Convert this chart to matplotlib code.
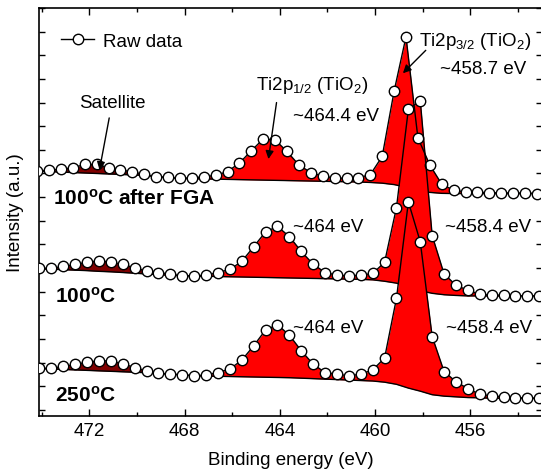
import numpy as np
import matplotlib
matplotlib.use("Agg")
import matplotlib.pyplot as plt  # noqa
from matplotlib.ticker import MultipleLocator  # noqa

plt.rcParams["font.family"] = ["Liberation Sans", "DejaVu Sans"]
plt.rcParams["mathtext.fontset"] = "custom"
plt.rcParams["mathtext.rm"] = "Liberation Sans"
plt.rcParams["mathtext.it"] = "Liberation Sans:italic"
plt.rcParams["mathtext.bf"] = "Liberation Sans:bold"

# Binding energy grids (eV), 0.5 eV steps
energy_fga = np.arange(474.2, 453.1, -0.5)
energy_100 = np.arange(474.1, 453.0, -0.5)
energy_250 = np.arange(474.1, 453.0, -0.5)

# Raw data, stacked (a.u.)
raw_fga = [10.10, 10.14, 10.18, 10.24, 10.38, 10.38, 10.25, 10.15, 10.07, 9.96,
           9.87, 9.83, 9.80, 9.81, 9.86, 9.92, 10.08, 10.44, 10.96, 11.46,
           11.42, 10.93, 10.36, 10.04, 9.89, 9.81, 9.79, 9.82, 9.95, 10.72,
           13.48, 15.78, 11.51, 10.36, 9.55, 9.29, 9.22, 9.20, 9.19, 9.18,
           9.17, 9.17, 9.15]
raw_100 = [5.98, 5.99, 6.07, 6.15, 6.25, 6.30, 6.26, 6.15, 6.01, 5.88,
           5.81, 5.74, 5.67, 5.67, 5.69, 5.81, 5.94, 6.28, 6.90, 7.53,
           7.76, 7.33, 6.70, 6.16, 5.81, 5.70, 5.67, 5.70, 5.77, 6.24,
           8.56, 12.72, 13.07, 7.37, 5.75, 5.27, 5.06, 4.89, 4.85, 4.85,
           4.82, 4.82, 4.82]
raw_250 = [1.75, 1.76, 1.84, 1.92, 2.02, 2.07, 2.07, 1.95, 1.79, 1.65,
           1.54, 1.51, 1.48, 1.44, 1.47, 1.58, 1.73, 2.10, 2.71, 3.38,
           3.60, 3.16, 2.50, 1.93, 1.58, 1.51, 1.44, 1.51, 1.69, 2.19,
           4.72, 8.80, 7.11, 3.10, 1.62, 1.19, 0.90, 0.66, 0.59, 0.55,
           0.52, 0.49, 0.49]

# Shirley backgrounds
bg_fga = [10.10, 10.08, 10.06, 10.04, 10.02, 10.00, 9.98, 9.96, 9.94, 9.92,
          9.86, 9.82, 9.79, 9.78, 9.77, 9.76, 9.75, 9.74, 9.73, 9.72,
          9.71, 9.70, 9.69, 9.68, 9.67, 9.66, 9.65, 9.64, 9.62, 9.59,
          9.53, 9.42, 9.27, 9.20, 9.16, 9.15, 9.15, 9.15, 9.15, 9.15,
          9.15, 9.15, 9.15]
bg_100 = [5.97, 5.95, 5.93, 5.91, 5.89, 5.86, 5.84, 5.81, 5.78, 5.75,
          5.72, 5.69, 5.67, 5.66, 5.65, 5.64, 5.63, 5.62, 5.61, 5.60,
          5.59, 5.58, 5.57, 5.56, 5.55, 5.54, 5.53, 5.52, 5.50, 5.44,
          5.36, 5.21, 5.04, 4.93, 4.87, 4.84, 4.82, 4.82, 4.82, 4.82,
          4.82, 4.82, 4.82]
bg_250 = [1.75, 1.73, 1.71, 1.69, 1.67, 1.65, 1.63, 1.61, 1.59, 1.57,
          1.54, 1.51, 1.48, 1.44, 1.43, 1.42, 1.41, 1.40, 1.39, 1.38,
          1.37, 1.36, 1.34, 1.32, 1.30, 1.28, 1.26, 1.24, 1.22, 1.17,
          1.08, 0.92, 0.79, 0.64, 0.58, 0.55, 0.52, 0.51, 0.49, 0.49,
          0.49, 0.49, 0.49]

satellite_edge = 469.5  # eV, satellite region on the high BE side

curves = [
    (energy_fga, raw_fga, bg_fga),
    (energy_100, raw_100, bg_100),
    (energy_250, raw_250, bg_250),
]

fig = plt.figure(figsize=(5.41, 4.77), dpi=100)
ax = fig.add_axes([0.0721, 0.1258, 0.9300, 0.8553])

# Fills and backgrounds (later curves drawn on top)
for i, (x, y, bg) in enumerate(curves):
    y = np.asarray(y)
    bg = np.asarray(bg)
    z = 2 + i
    ax.fill_between(x, y, bg, where=x >= satellite_edge, color="#800000",
                    linewidth=0, zorder=z)
    ax.fill_between(x, y, bg, where=x <= satellite_edge, color="#ff0000",
                    linewidth=0, zorder=z)
    ax.plot(x, bg, color="black", lw=1.0, zorder=z + 0.1)

# Raw data on top of everything
for i, (x, y, bg) in enumerate(curves):
    ax.plot(x, y, "-o", color="black", lw=1.0, ms=7.5, mfc="white",
            mec="black", mew=1.0, zorder=10,
            label="Raw data" if i == 0 else None)

ax.set_xlim(474.12, 452.98)
ax.set_ylim(-0.26, 17.0)
ax.xaxis.set_major_locator(MultipleLocator(4))
ax.xaxis.set_minor_locator(MultipleLocator(2))
ax.yaxis.set_major_locator(MultipleLocator(1))
ax.set_yticklabels([])
ax.tick_params(axis="x", which="major", direction="in", length=5, width=1,
               top=True, labelsize=13.5, pad=4)
ax.tick_params(axis="x", which="minor", direction="in", length=3, width=1,
               top=True)
ax.tick_params(axis="y", which="major", direction="in", length=4.5, width=1,
               right=True, left=True)
for sp in ax.spines.values():
    sp.set_linewidth(1.2)

ax.set_xlabel("Binding energy (eV)", fontsize=13.5, labelpad=9)
ax.set_ylabel("Intensity (a.u.)", fontsize=13.5, labelpad=7)

ax.legend(loc="upper left", bbox_to_anchor=(0.043, 0.94), frameon=False,
          fontsize=13.5, handlelength=1.8, handletextpad=0.45,
          borderaxespad=0, borderpad=0)

fs = 13.5
ax.text(471.04, 13.02, "Satellite", fontsize=fs, ha="center", va="center")
ax.annotate("", xy=(471.58, 10.15), xytext=(471.17, 12.35),
            arrowprops=dict(arrowstyle="-|>", color="black", lw=1.0,
                            mutation_scale=12, shrinkA=0, shrinkB=0),
            zorder=12)
ax.text(462.65, 13.78, "Ti2p$_{\\mathregular{1/2}}$ (TiO$_{\\mathregular{2}}$)",
        fontsize=fs, ha="center", va="center")
ax.annotate("", xy=(464.48, 10.61), xytext=(464.14, 13.0),
            arrowprops=dict(arrowstyle="-|>", color="black", lw=1.0,
                            mutation_scale=12, shrinkA=0, shrinkB=0),
            zorder=12)
ax.text(461.65, 12.47, "~464.4 eV", fontsize=fs, ha="center", va="center")
ax.text(455.8, 15.64, "Ti2p$_{\\mathregular{3/2}}$ (TiO$_{\\mathregular{2}}$)",
        fontsize=fs, ha="center", va="center")
ax.annotate("", xy=(458.83, 14.24), xytext=(457.87, 15.21),
            arrowprops=dict(arrowstyle="-|>", color="black", lw=1.0,
                            mutation_scale=12, shrinkA=0, shrinkB=0),
            zorder=12)
ax.text(455.47, 14.45, "~458.7 eV", fontsize=fs, ha="center", va="center")
ax.text(461.99, 7.77, "~464 eV", fontsize=fs, ha="center", va="center")
ax.text(455.25, 7.77, "~458.4 eV", fontsize=fs, ha="center", va="center")
ax.text(461.99, 3.50, "~464 eV", fontsize=fs, ha="center", va="center")
ax.text(455.21, 3.50, "~458.4 eV", fontsize=fs, ha="center", va="center")

ax.text(473.53, 8.96, "100$^{\\mathregular{o}}$C after FGA", fontsize=15,
        fontweight="bold", ha="left", va="center")
ax.text(473.44, 4.81, "100$^{\\mathregular{o}}$C", fontsize=15,
        fontweight="bold", ha="left", va="center")
ax.text(473.44, 0.66, "250$^{\\mathregular{o}}$C", fontsize=15,
        fontweight="bold", ha="left", va="center")

fig.savefig("out.png", dpi=100)
